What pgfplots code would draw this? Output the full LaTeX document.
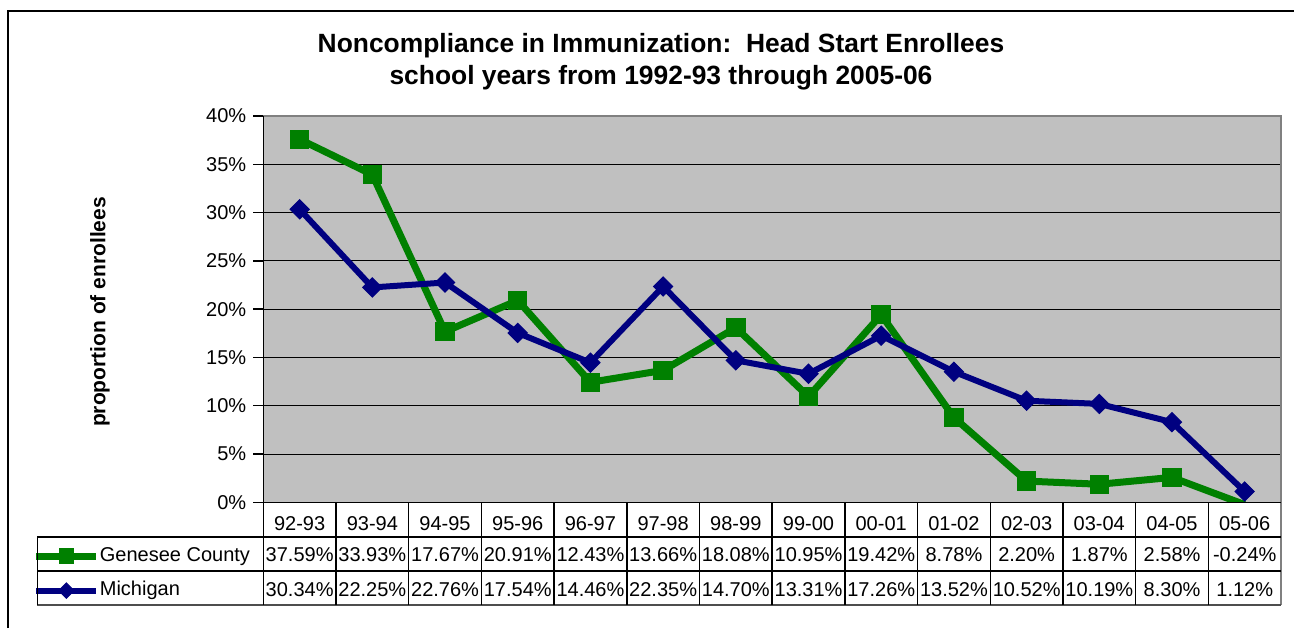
\documentclass[border=0pt]{standalone}
\usepackage{pgfplots}
\pgfplotsset{compat=1.18}
\usepackage{fontspec}
\setmainfont{Liberation Sans}
\definecolor{plotgray}{RGB}{192,192,192}
\definecolor{borderg}{RGB}{128,128,128}
\definecolor{gcgreen}{RGB}{0,128,0}
\definecolor{minavy}{RGB}{0,0,128}
\begin{document}
\begin{tikzpicture}[x=0.5pt,y=-0.5pt]
\path[use as bounding box] (0,0) rectangle (1294,628);
\begin{axis}[
  at={(131.65pt,-251.15pt)}, anchor=south west,
  width=508.85pt, height=193.15pt, scale only axis,
  xmin=-0.5, xmax=13.5, ymin=0, ymax=40,
  axis background/.style={fill=plotgray},
  axis line style={draw=none},
  /pgf/number format/assume math mode=true,
  ytick={0,5,...,40},
  ytick pos=left,
  yticklabel={\pgfmathprintnumber{\tick}\%},
  ymajorgrids, grid style={black, line width=0.5pt},
  tick align=outside, major tick length=5pt,
  ytick style={black, line width=0.75pt},
  yticklabel style={font=\fontsize{10}{12}\selectfont},
  xtick={0,...,13},
  xtick pos=bottom,
  xticklabels={92-93,93-94,94-95,95-96,96-97,97-98,98-99,99-00,00-01,01-02,02-03,03-04,04-05,05-06},
  xtick style={draw=none},
  xticklabel style={font=\fontsize{10}{12}\selectfont, anchor=base, yshift=-8.9pt},
  legend style={at={(-0.2264,-0.1131)}, anchor=north west, draw=none, fill=none,
    inner sep=0pt, outer sep=0pt, row sep=7.3pt, column sep=0pt,
    font=\fontsize{10}{12}\selectfont,
    nodes={inner sep=0pt, text height=7.5pt, text depth=2.5pt}},
  legend cell align=left,
  legend image code/.code={\draw[mark repeat=2, mark phase=2, #1, every mark/.append style={scale=0.8}] plot coordinates {(0pt,0pt) (15pt,0pt) (30pt,0pt)};},
]
\addplot[gcgreen, line width=3.5pt, mark=square*, mark size=4.6pt, mark options={solid, line width=0.5pt}] coordinates {
(0,37.59) (1,33.93) (2,17.67) (3,20.91) (4,12.43) (5,13.66) (6,18.08) (7,10.95) (8,19.42) (9,8.78) (10,2.20) (11,1.87) (12,2.58) (13,-0.24)};
\addlegendentry{Genesee County}
\addplot[minavy, line width=3pt, mark=square*, mark size=3.4pt, mark options={solid, rotate=45, line width=0.5pt}] coordinates {
(0,30.34) (1,22.25) (2,22.76) (3,17.54) (4,14.46) (5,22.35) (6,14.70) (7,13.31) (8,17.26) (9,13.52) (10,10.52) (11,10.19) (12,8.30) (13,1.12)};
\addlegendentry{Michigan}
\end{axis}
% axis lines
\draw[borderg, line width=1.25pt] (263.3,116) -- (1281,116) -- (1281,605);
\draw[black, line width=0.75pt] (263.3,116) -- (263.3,502.3) -- (1281,502.3);
% table
\foreach \yy in {537,571} \draw[black, line width=0.75pt] (37.3,\yy) -- (1281,\yy);
\draw[borderg!60!black, line width=0.75pt] (37.3,605) -- (1281,605);
\draw[black, line width=0.75pt] (37.3,537) -- (37.3,605);
\foreach \k in {1,...,13} \draw[black, line width=0.75pt] (263.3+72.7*\k,502.3) -- (263.3+72.7*\k,605);
\draw[black, line width=0.75pt] (263.3,502.3) -- (263.3,605);
\foreach \v [count=\i from 0] in {37.59\%,33.93\%,17.67\%,20.91\%,12.43\%,13.66\%,18.08\%,10.95\%,19.42\%,8.78\%,2.20\%,1.87\%,2.58\%,-0.24\%}
  \node[anchor=base, inner sep=0pt, font=\fontsize{10}{12}\selectfont] at (299.65+72.7*\i,561) {\v};
\foreach \v [count=\i from 0] in {30.34\%,22.25\%,22.76\%,17.54\%,14.46\%,22.35\%,14.70\%,13.31\%,17.26\%,13.52\%,10.52\%,10.19\%,8.30\%,1.12\%}
  \node[anchor=base, inner sep=0pt, font=\fontsize{10}{12}\selectfont] at (299.65+72.7*\i,596) {\v};
% titles
\node[font=\bfseries\fontsize{13.2}{15}\selectfont] at (661,46) {Noncompliance in Immunization:\ \ Head Start Enrollees};
\node[font=\bfseries\fontsize{13.2}{15}\selectfont] at (661,78) {school years from 1992-93 through 2005-06};
\node[rotate=90, font=\bfseries\fontsize{10.5}{12}\selectfont] at (100,312) {proportion of enrollees};
% frame
\draw[black, line width=1pt] (8,628) -- (8,11) -- (1294,11);
\end{tikzpicture}
\end{document}
